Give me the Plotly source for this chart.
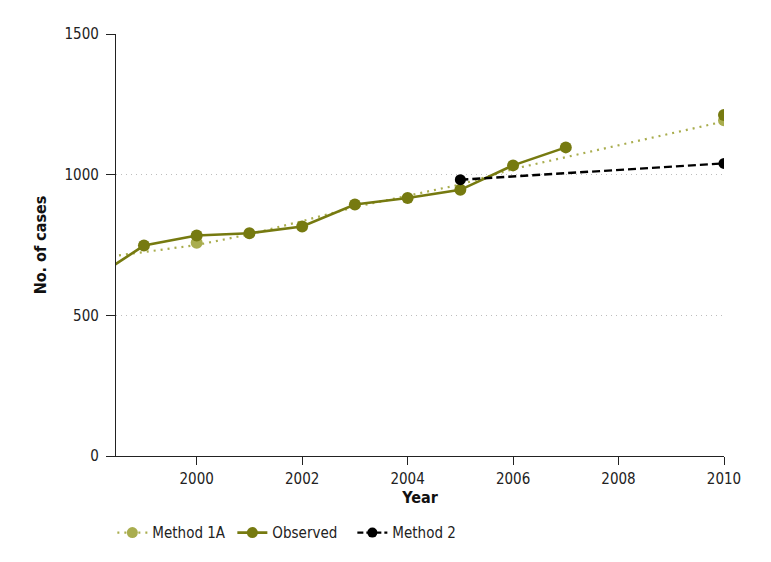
import plotly.graph_objects as go

# Data
years_obs = [1998, 1999, 2000, 2001, 2002, 2003, 2004, 2005, 2006, 2007, 2008, 2010]
observed = [625, 748, 784, 792, 816, 894, 917, 946, 1033, 1097, None, 1212]

years_m1a = [1998, 1999, 2000, 2001, 2002, 2003, 2004, 2005, 2006, 2007, 2008, 2009, 2010]
method1a_fit = [700, 726, 750, 788, 835, 885, 925, 965, 1020, 1062, 1105, 1147, 1189]
years_m1a_pts = [2000, 2010]
method1a_pts = [758, 1193]

years_m2 = [2005, 2010]
method2 = [982, 1040]

x_ticks = [2000, 2002, 2004, 2006, 2008, 2010]
y_ticks = [0, 500, 1000, 1500]

DARK = "#767a10"
LIGHT = "#a9ad4e"
FONT = "DejaVu Sans Condensed, Liberation Sans Narrow, Roboto Condensed, Arial Narrow, Roboto, sans-serif"

fig = go.Figure()

fig.add_trace(go.Scatter(
    x=years_m1a, y=method1a_fit, mode="lines",
    line=dict(color=LIGHT, width=2.2, dash="2px,5px"),
    showlegend=False, hoverinfo="skip"))
fig.add_trace(go.Scatter(
    x=years_m1a_pts, y=method1a_pts, mode="markers",
    marker=dict(color=LIGHT, size=12),
    showlegend=False))
fig.add_trace(go.Scatter(
    x=years_obs, y=observed, mode="lines+markers",
    line=dict(color=DARK, width=2.6),
    marker=dict(color=DARK, size=12),
    connectgaps=False, showlegend=False))
fig.add_trace(go.Scatter(
    x=years_m2, y=method2, mode="lines+markers",
    line=dict(color="black", width=2.4, dash="8px,4px"),
    marker=dict(color="black", size=11),
    showlegend=False))

fig.add_trace(go.Scatter(
    x=[None], y=[None], mode="lines+markers", name="Method 1A",
    line=dict(color=LIGHT, width=2.2, dash="2px,5px"),
    marker=dict(color=LIGHT, size=11)))
fig.add_trace(go.Scatter(
    x=[None], y=[None], mode="lines+markers", name="Observed",
    line=dict(color=DARK, width=2.6),
    marker=dict(color=DARK, size=11)))
fig.add_trace(go.Scatter(
    x=[None], y=[None], mode="lines+markers", name="Method 2",
    line=dict(color="black", width=2.4, dash="6px,3px"),
    marker=dict(color="black", size=10)))

fig.update_layout(
    width=771, height=562,
    margin=dict(l=108, r=55, t=26, b=114, autoexpand=False),
    paper_bgcolor="white", plot_bgcolor="white",
    font=dict(family=FONT, size=15, color="#222222"),
    legend=dict(orientation="h", x=-0.006, y=-0.143, xanchor="left", yanchor="top",
                font=dict(family=FONT, size=15, color="#222222"),
                itemwidth=30, tracegroupgap=0, entrywidth=75, entrywidthmode="pixels"),
    xaxis=dict(
        range=[1998.47, 2010], tickvals=x_ticks, ticktext=[str(v) for v in x_ticks],
        showgrid=False, zeroline=False, showline=True, linecolor="#222222", linewidth=1.3,
        ticks="outside", ticklen=8, tickcolor="#222222", tickwidth=1.3,
        ticklabelstandoff=1, tickfont=dict(family=FONT, size=15, color="#222222"),
        title=dict(text="<b>Year</b>", font=dict(family=FONT, size=16, color="#111111"), standoff=4),
    ),
    yaxis=dict(
        range=[0, 1500], tickvals=y_ticks, ticktext=[str(v) for v in y_ticks],
        showgrid=True, gridcolor="#bdbdbd", griddash="1px,4px", gridwidth=1.2,
        zeroline=False, showline=True, linecolor="#222222", linewidth=1.3,
        ticks="outside", ticklen=9, tickcolor="#222222", tickwidth=1.3,
        ticklabelstandoff=4, tickfont=dict(family=FONT, size=15, color="#222222"),
        title=dict(text="<b>No. of cases</b>", font=dict(family=FONT, size=16, color="#111111"), standoff=13),
    ),
)

fig.write_html("out.html")
